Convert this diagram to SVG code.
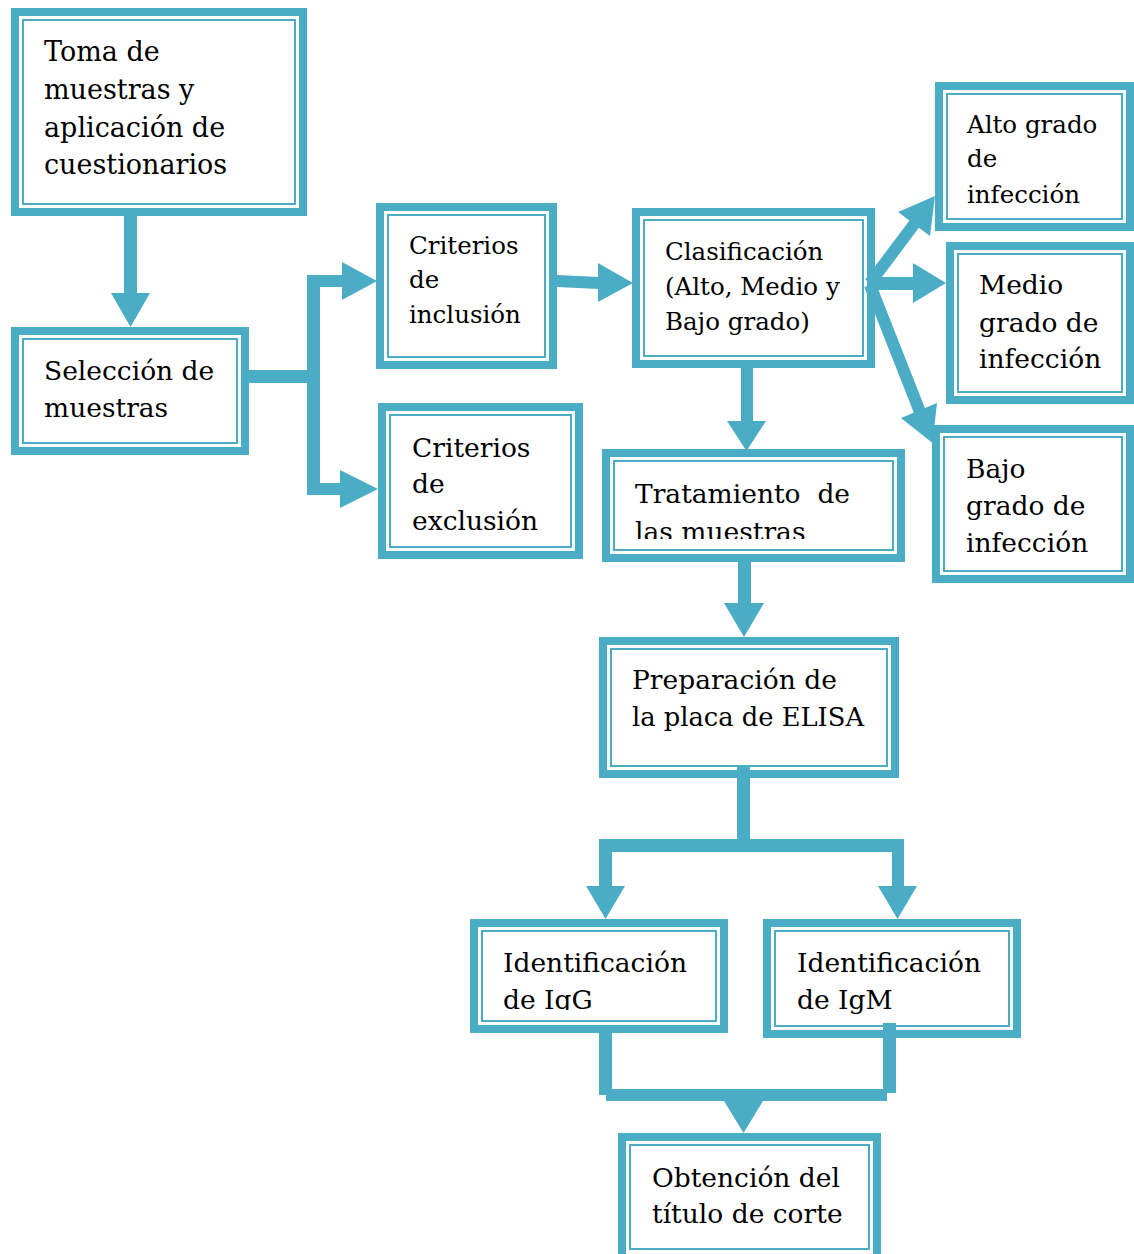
<svg xmlns="http://www.w3.org/2000/svg" width="1134" height="1254" viewBox="0 0 1134 1254">
<style>
.o{fill:#fff;stroke:#4BACC6;stroke-width:8}
.i{fill:none;stroke:#4BACC6;stroke-width:2}
.c{fill:#4BACC6;stroke:none}
.s{fill:none;stroke:#4BACC6;stroke-width:12}
text{font-family:"DejaVu Serif","Liberation Serif",serif;font-size:26.5px;fill:#000}
.sm{font-size:24.5px}
.lg{font-size:27px}
</style>
<defs>
<clipPath id="clipT"><rect x="600" y="440" width="310" height="99"/></clipPath>
<clipPath id="clipG"><rect x="470" y="910" width="260" height="100"/></clipPath>
</defs>
<rect width="1134" height="1254" fill="#fff"/>
<g id="nodes">
<g id="toma">
<rect class="o" x="15" y="12" width="288" height="200"/>
<rect class="i" x="23" y="20" width="272" height="184"/>
<text class="lg" x="44" y="61">Toma de</text>
<text class="lg" x="44" y="99">muestras y</text>
<text class="lg" x="44" y="137">aplicación de</text>
<text class="lg" x="44" y="174">cuestionarios</text>
</g>
<g id="seleccion">
<rect class="o" x="15" y="331" width="230" height="120"/>
<rect class="i" x="23" y="339" width="214" height="104"/>
<text x="44" y="380">Selección de</text>
<text x="44" y="417">muestras</text>
</g>
<g id="inclusion">
<rect class="o" x="380" y="207" width="173" height="158"/>
<rect class="i" x="388" y="215" width="157" height="142"/>
<text class="sm" x="409" y="254">Criterios</text>
<text class="sm" x="409" y="288">de</text>
<text class="sm" x="409" y="323">inclusión</text>
</g>
<g id="exclusion">
<rect class="o" x="382" y="407" width="197" height="148"/>
<rect class="i" x="390" y="415" width="181" height="132"/>
<text x="412" y="457">Criterios</text>
<text x="412" y="493">de</text>
<text x="412" y="530">exclusión</text>
</g>
<g id="clasificacion">
<rect class="o" x="636" y="212" width="235" height="152"/>
<rect class="i" x="644" y="220" width="219" height="136"/>
<text class="sm" x="665" y="260">Clasificación</text>
<text class="sm" x="665" y="295">(Alto, Medio y</text>
<text class="sm" x="665" y="330">Bajo grado)</text>
</g>
<g id="alto">
<rect class="o" x="939" y="86" width="191" height="141"/>
<rect class="i" x="947" y="94" width="175" height="125"/>
<text class="sm" x="967" y="133">Alto grado</text>
<text class="sm" x="967" y="167">de</text>
<text class="sm" x="967" y="203">infección</text>
</g>
<g id="medio">
<rect class="o" x="950" y="246" width="180" height="154"/>
<rect class="i" x="958" y="254" width="164" height="138"/>
<text x="979" y="294">Medio</text>
<text x="979" y="332">grado de</text>
<text x="979" y="368">infección</text>
</g>
<g id="bajo">
<rect class="o" x="936" y="429" width="194" height="150"/>
<rect class="i" x="944" y="437" width="178" height="134"/>
<text x="966" y="478">Bajo</text>
<text x="966" y="515">grado de</text>
<text x="966" y="552">infección</text>
</g>
<g id="tratamiento">
<rect class="o" x="606" y="453" width="295" height="105"/>
<rect class="i" x="614" y="461" width="279" height="89"/>
<g clip-path="url(#clipT)">
<text x="635" y="503" xml:space="preserve" style="white-space:pre">Tratamiento  de</text>
<text x="635" y="541">las muestras</text>
</g>
</g>
<g id="preparacion">
<rect class="o" x="603" y="641" width="292" height="133"/>
<rect class="i" x="611" y="649" width="276" height="117"/>
<text x="632" y="689">Preparación de</text>
<text x="632" y="726" textLength="232" lengthAdjust="spacingAndGlyphs">la placa de ELISA</text>
</g>
<g id="igg">
<rect class="o" x="474" y="923" width="250" height="106"/>
<rect class="i" x="482" y="931" width="234" height="90"/>
<g clip-path="url(#clipG)">
<text x="503" y="972">Identificación</text>
<text x="503" y="1009">de IgG</text>
</g>
</g>
<g id="igm">
<rect class="o" x="767" y="923" width="250" height="111"/>
<rect class="i" x="775" y="931" width="234" height="95"/>
<text x="797" y="972">Identificación</text>
<text x="797" y="1009">de IgM</text>
</g>
<g id="obtencion">
<rect class="o" x="622" y="1137" width="255" height="130"/>
<rect class="i" x="630" y="1145" width="239" height="104"/>
<text x="652" y="1187">Obtención del</text>
<text x="652" y="1223">título de corte</text>
</g>
</g>
<g id="connectors">
<rect class="c" x="124" y="216" width="13" height="78"/>
<polygon class="c" points="111,293 150,293 130.5,327"/>
<rect class="c" x="249" y="370" width="71" height="13"/>
<rect class="c" x="307" y="275" width="13" height="220"/>
<rect class="c" x="307" y="275" width="36" height="12"/>
<polygon class="c" points="342,262 342,300 377,281"/>
<rect class="c" x="307" y="483" width="34" height="12"/>
<polygon class="c" points="340,470 340,508 378,489"/>
<polygon class="c" points="557,275 599,277 599,289 557,287"/>
<polygon class="c" points="598,263 598,302 633,283"/>
<line class="s" x1="870" y1="283" x2="915" y2="223"/>
<polygon class="c" points="898,212 930,236 935,196"/>
<rect class="c" x="869" y="277" width="45" height="13"/>
<polygon class="c" points="913,263 913,303 946,283"/>
<line class="s" x1="870" y1="285" x2="920" y2="412"/>
<polygon class="c" points="901,418 937,403 932.5,443"/>
<rect class="c" x="741" y="366" width="12" height="56"/>
<polygon class="c" points="727,421 766,421 746.5,451"/>
<rect class="c" x="738" y="562" width="13" height="42"/>
<polygon class="c" points="724,603 764,603 744,637"/>
<rect class="c" x="737" y="767" width="13" height="85"/>
<rect class="c" x="599" y="839" width="305" height="13"/>
<rect class="c" x="599" y="839" width="13" height="48"/>
<polygon class="c" points="586,886 625,886 605.5,919"/>
<rect class="c" x="892" y="839" width="12" height="48"/>
<polygon class="c" points="878,886 917,886 897.5,919"/>
<rect class="c" x="599" y="1033" width="13" height="62"/>
<rect class="c" x="883" y="1023" width="13" height="70"/>
<rect class="c" x="606" y="1089" width="281" height="12"/>
<polygon class="c" points="724,1101 763,1101 743.5,1133"/>
</g>
</svg>
